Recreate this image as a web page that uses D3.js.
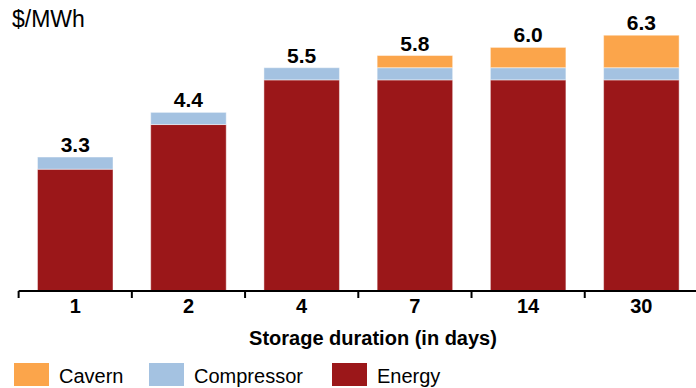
<!DOCTYPE html>
<html>
<head>
<meta charset="utf-8">
<script src="https://cdn.jsdelivr.net/npm/d3@7"></script>
<style>
  html, body { margin: 0; padding: 0; background: #fff; }
  svg { display: block; font-family: "Liberation Sans", Arial, sans-serif; }
</style>
</head>
<body>
<svg id="chart" width="696" height="388"></svg>
<script>
const categories = ["1", "2", "4", "7", "14", "30"];
const energy     = [3.0, 4.1, 5.2, 5.2, 5.2, 5.2];
const compressor = [0.3, 0.3, 0.3, 0.3, 0.3, 0.3];
const cavern     = [0.0, 0.0, 0.0, 0.3, 0.5, 0.8];
const totals     = [3.3, 4.4, 5.5, 5.8, 6.0, 6.3];
const seriesNames = ["Energy", "Compressor", "Cavern"];
const legendOrder = ["Cavern", "Compressor", "Energy"];
const colors = { Energy: "#9b1719", Compressor: "#a4c2e1", Cavern: "#fba54b" };
const unitLabel = "$/MWh";
const xTitle = "Storage duration (in days)";

const svg = d3.select("#chart");

const rows = categories.map((c, i) => ({
  cat: c, Energy: energy[i], Compressor: compressor[i], Cavern: cavern[i], total: totals[i]
}));

const x = d3.scaleBand().domain(categories).range([18.6, 698])
  .paddingInner(0.333).paddingOuter(0.1667);
const y = d3.scaleLinear().domain([0, 7]).range([291, 6.8]);

const stack = d3.stack().keys(seriesNames)(rows);

svg.append("g").selectAll("g").data(stack).join("g")
  .attr("fill", d => colors[d.key])
  .selectAll("rect").data(d => d.filter(p => p[1] - p[0] > 0)).join("rect")
  .attr("x", d => x(d.data.cat))
  .attr("width", x.bandwidth())
  .attr("y", d => y(d[1]))
  .attr("height", d => y(d[0]) - y(d[1]))
  .attr("stroke", "rgba(255,255,255,0.45)")
  .attr("stroke-width", 1);

// value labels
svg.append("g").selectAll("text").data(rows).join("text")
  .attr("x", d => x(d.cat) + x.bandwidth() / 2)
  .attr("y", d => y(d.total) - 5)
  .attr("text-anchor", "middle")
  .attr("font-size", 21)
  .attr("font-weight", "bold")
  .attr("fill", "#000")
  .text(d => d.total.toFixed(1));

// x axis
const step = x.step();
const boundaries = categories.map(c => x(c) - step * x.paddingInner() / 2);
const axisG = svg.append("g");
axisG.append("line")
  .attr("x1", boundaries[0]).attr("x2", 696)
  .attr("y1", y(0)).attr("y2", y(0))
  .attr("stroke", "#000").attr("stroke-width", 2);
axisG.selectAll("line.tick").data(boundaries).join("line")
  .attr("class", "tick")
  .attr("x1", d => d).attr("x2", d => d)
  .attr("y1", y(0)).attr("y2", y(0) + 7)
  .attr("stroke", "#000").attr("stroke-width", 2);
axisG.selectAll("text").data(categories).join("text")
  .attr("x", d => x(d) + x.bandwidth() / 2)
  .attr("y", y(0) + 22)
  .attr("text-anchor", "middle")
  .attr("font-size", 20)
  .attr("font-weight", "bold")
  .text(d => d);

svg.append("text")
  .attr("x", 373).attr("y", 345)
  .attr("text-anchor", "middle")
  .attr("font-size", 20)
  .attr("font-weight", "bold")
  .text(xTitle);

svg.append("text")
  .attr("x", 12).attr("y", 27)
  .attr("font-size", 23)
  .text(unitLabel);

// legend
const legendX = [14, 149, 332];
const lg = svg.append("g").selectAll("g").data(legendOrder).join("g")
  .attr("transform", (d, i) => `translate(${legendX[i]},363)`);
lg.append("rect").attr("width", 35).attr("height", 23).attr("fill", d => colors[d]);
lg.append("text").attr("x", 45).attr("y", 20).attr("font-size", 20).text(d => d);
</script>
</body>
</html>
